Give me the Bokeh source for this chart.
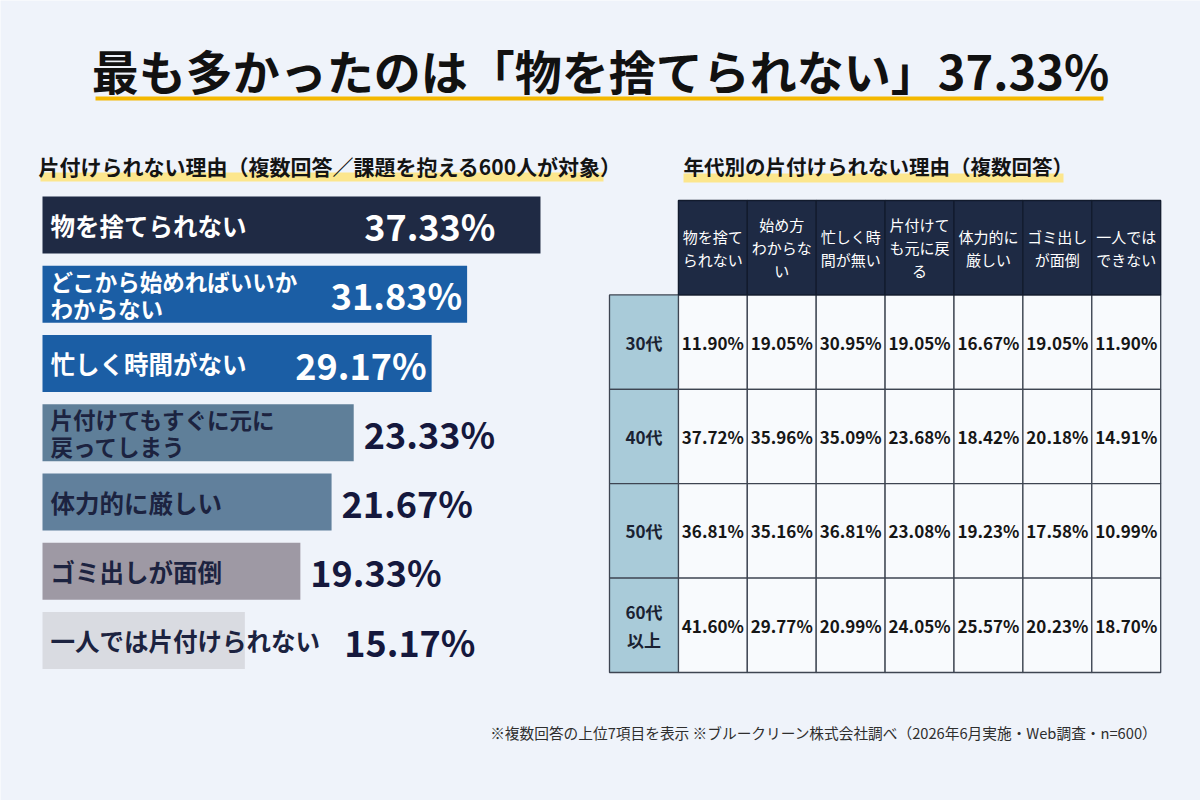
from bokeh.plotting import figure
from bokeh.models import Range1d
from bokeh.core.properties import value
from bokeh.embed import file_html
from bokeh.resources import INLINE

# ---- data -------------------------------------------------------------
reasons = [
    "物を捨てられない",
    "どこから始めればいいか\nわからない",
    "忙しく時間がない",
    "片付けてもすぐに元に\n戻ってしまう",
    "体力的に厳しい",
    "ゴミ出しが面倒",
    "一人では片付けられない",
]
shares = [37.33, 31.83, 29.17, 23.33, 21.67, 19.33, 15.17]

age_groups = ["30代", "40代", "50代", "60代\n以上"]
table_headers = [
    "物を捨て\nられない",
    "始め方\nわからな\nい",
    "忙しく時\n間が無い",
    "片付けて\nも元に戻\nる",
    "体力的に\n厳しい",
    "ゴミ出し\nが面倒",
    "一人では\nできない",
]
age_30s = [11.90, 19.05, 30.95, 19.05, 16.67, 19.05, 11.90]
age_40s = [37.72, 35.96, 35.09, 23.68, 18.42, 20.18, 14.91]
age_50s = [36.81, 35.16, 36.81, 23.08, 19.23, 17.58, 10.99]
age_60s = [41.60, 29.77, 20.99, 24.05, 25.57, 20.23, 18.70]
age_rows = [age_30s, age_40s, age_50s, age_60s]

title_text = f"最も多かったのは「{reasons[0]}」{shares[0]:.2f}%"
left_heading = "片付けられない理由（複数回答／課題を抱える600人が対象）"
right_heading = "年代別の片付けられない理由（複数回答）"
footnote = "※複数回答の上位7項目を表示 ※ブルークリーン株式会社調べ（2026年6月実施・Web調査・n=600）"

# ---- styling ----------------------------------------------------------
W, H = 1200, 800
BG = "#eff3fa"
FONT = value("Noto Sans CJK JP")
bar_colors = ["#1f2a44", "#1b5ea5", "#1b5ea5", "#5f7f99", "#61809c", "#9e99a4", "#d9dbe1"]
label_colors = ["#ffffff", "#ffffff", "#ffffff", "#1c2340", "#1c2340", "#1c2340", "#1c2340"]
NAVY = "#1e2a44"
GRID = "#3e4552"

p = figure(width=W, height=H, x_range=Range1d(0, W), y_range=Range1d(H, 0),
           output_backend="svg", toolbar_location=None, min_border=0,
           x_axis_location=None, y_axis_location=None,
           background_fill_color=BG, border_fill_color=BG, outline_line_color=None)
p.grid.visible = False

# ---- title -------------------------------------------------------------
p.text(x=[600], y=[69], text=[title_text], text_font=FONT, text_font_style="bold",
       text_font_size="47px", text_color="#111111", text_align="center",
       text_baseline="middle")
p.quad(left=[95], right=[1103], top=[96], bottom=[100], fill_color="#f4b800", line_color=None)

# ---- headings with marker highlight ----------------------------------
p.quad(left=[40, 683], right=[603, 1063], top=[172, 173], bottom=[181, 182],
       fill_color="#fce587", line_color=None, fill_alpha=0.95)
p.text(x=[38], y=[165], text=[left_heading], text_font=FONT, text_font_style="bold",
       text_font_size="21px", text_color="#141414", text_align="left", text_baseline="middle")
p.text(x=[683], y=[165], text=[right_heading], text_font=FONT, text_font_style="bold",
       text_font_size="20.5px", text_color="#141414", text_align="left", text_baseline="middle")

# ---- horizontal bar chart ----------------------------------------------
BAR_X0, PX_PER_PCT = 42, 13.34
BAR_Y0, BAR_STEP = 224.5, 69.25
p.extra_x_ranges["pct"] = Range1d(-BAR_X0 / PX_PER_PCT, (W - BAR_X0) / PX_PER_PCT)
p.extra_y_ranges["bar_row"] = Range1d((H - BAR_Y0) / BAR_STEP, -BAR_Y0 / BAR_STEP)

rows = list(range(len(reasons)))
p.hbar(y=rows, left=0, right=shares, height=0.82, fill_color=bar_colors,
       line_color=None, x_range_name="pct", y_range_name="bar_row")

single = [i for i in rows if "\n" not in reasons[i]]
double = [i for i in rows if "\n" in reasons[i]]
p.text(x=[50] * len(single), y=single, text=[reasons[i] for i in single],
       text_color=[label_colors[i] for i in single], text_font=FONT,
       text_font_style="bold", text_font_size="24.5px", text_align="left",
       text_baseline="middle", y_range_name="bar_row")
p.text(x=[50] * len(double), y=double, text=[reasons[i] for i in double],
       text_color=[label_colors[i] for i in double], text_font=FONT,
       text_font_style="bold", text_font_size="22.5px", text_align="left",
       text_baseline="middle", text_line_height=0.85, y_range_name="bar_row")

inside = [0, 1, 2]
inside_offsets = [-45, -5, -5]
outside = [3, 4, 5, 6]
outside_offsets = []
for i in outside:
    label_end = 50 + len(reasons[i].split("\n")[0]) * 24.7
    bar_end = BAR_X0 + shares[i] * PX_PER_PCT
    outside_offsets.append(max(0, label_end - bar_end + 12) + 10)

p.text(x=[shares[i] for i in inside], y=inside, text=[f"{shares[i]:.2f}%" for i in inside],
       x_offset=inside_offsets, text_color="#ffffff", text_font=FONT,
       text_font_style="bold", text_font_size="36px", text_align="right",
       text_baseline="middle", x_range_name="pct", y_range_name="bar_row")
p.text(x=[shares[i] for i in outside], y=outside, text=[f"{shares[i]:.2f}%" for i in outside],
       x_offset=outside_offsets, text_color="#15183d", text_font=FONT,
       text_font_style="bold", text_font_size="36px", text_align="left",
       text_baseline="middle", x_range_name="pct", y_range_name="bar_row")

# ---- table by age group --------------------------------------------------
T_X0, T_CW = 609, 68.9
T_Y0, T_RH = 200, 94.4
p.extra_x_ranges["tcol"] = Range1d(-T_X0 / T_CW - 0.5, (W - T_X0) / T_CW - 0.5)
p.extra_y_ranges["trow"] = Range1d((H - T_Y0) / T_RH - 0.5, -T_Y0 / T_RH - 0.5)
tbl = dict(x_range_name="tcol", y_range_name="trow")

cell_x, cell_y, cell_txt = [], [], []
for r, vals in enumerate(age_rows, start=1):
    for c, v in enumerate(vals, start=1):
        cell_x.append(c)
        cell_y.append(r)
        cell_txt.append(f"{v:.2f}%")

p.rect(x=cell_x, y=cell_y, width=1, height=1, fill_color="#f8fafd",
       line_color=GRID, line_width=1.3, **tbl)
p.rect(x=[0] * len(age_groups), y=list(range(1, len(age_groups) + 1)), width=1, height=1,
       fill_color="#a9cbd9", line_color=GRID, line_width=1.3, **tbl)
p.rect(x=list(range(1, len(table_headers) + 1)), y=[0] * len(table_headers), width=1,
       height=1, fill_color=NAVY, line_color="#121b2d", line_width=1.3, **tbl)

p.text(x=list(range(1, len(table_headers) + 1)), y=[0] * len(table_headers),
       text=table_headers, text_color="#ffffff", text_font=FONT, text_font_size="15px",
       text_align="center", text_baseline="middle", text_line_height=1.1, **tbl)
p.text(x=[0] * len(age_groups), y=list(range(1, len(age_groups) + 1)), text=age_groups,
       text_color="#1a2232", text_font=FONT, text_font_style="bold", text_font_size="17px",
       text_align="center", text_baseline="middle", text_line_height=1.1, **tbl)
p.text(x=cell_x, y=cell_y, text=cell_txt, text_color="#161616", text_font=FONT,
       text_font_style="bold", text_font_size="17px", text_align="center",
       text_baseline="middle", **tbl)

# ---- footnote -------------------------------------------------------------
p.text(x=[1157], y=[732], text=[footnote], text_font=FONT, text_font_size="14.7px",
       text_color="#2e2e2e", text_align="right", text_baseline="middle")

open("out.html", "w").write(file_html(p, INLINE))
